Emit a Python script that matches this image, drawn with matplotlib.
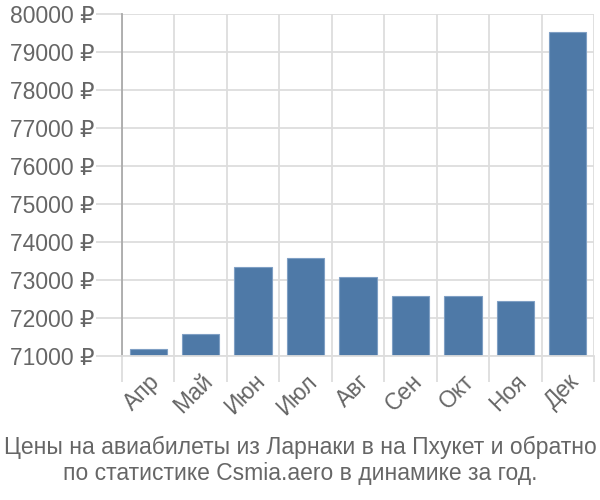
import numpy as np
import matplotlib.pyplot as plt

months = ['Апр', 'Май', 'Июн', 'Июл', 'Авг', 'Сен', 'Окт', 'Ноя', 'Дек']
prices = [71180, 71590, 73345, 73590, 73075, 72590, 72590, 72460, 79520]
yticks = [71000, 72000, 73000, 74000, 75000, 76000, 77000, 78000, 79000, 80000]
title = 'Цены на авиабилеты из Ларнаки в на Пхукет и обратно\nпо статистике Csmia.aero в динамике за год.'

plt.rcParams['font.family'] = ['Liberation Sans', 'DejaVu Sans']
txt = '#666666'
grid = '#dddddd'

fig = plt.figure(figsize=(6, 5), dpi=100)
ax = fig.add_axes([0.2033, 0.288, 0.7867, 0.684])

x = np.arange(len(months))
base = yticks[0]
ax.bar(x, [p - base for p in prices], bottom=base, width=0.71,
       color='#4e79a7', edgecolor='#7f9fc4', linewidth=0.8, zorder=3)

ax.set_xlim(-0.5, len(months) - 0.5)
ax.set_ylim(yticks[0], yticks[-1])
ax.set_yticks(yticks)
ax.set_yticklabels([f'{v} ₽' for v in yticks], fontsize=16.5, color=txt)
ax.set_xticks(x)
ax.set_xticklabels(months, rotation=45, ha='right', rotation_mode='anchor',
                   fontsize=16.5, color=txt)
ax.set_xticks(np.arange(-0.5, len(months)), minor=True)

ax.grid(True, which='minor', axis='x', color=grid, linewidth=1.3, zorder=0)
ax.grid(True, which='major', axis='y', color=grid, linewidth=1.3, zorder=0)
ax.tick_params(axis='x', which='major', length=0, pad=10)
ax.tick_params(axis='x', which='minor', length=19, width=1.3, color=grid)
ax.tick_params(axis='y', length=19, width=1.3, color=grid, pad=1)

for s in ['top', 'right']:
    ax.spines[s].set_visible(False)
ax.spines['bottom'].set_color(grid)
ax.spines['bottom'].set_linewidth(1.3)
ax.spines['bottom'].set_zorder(4)
ax.spines['left'].set_color('#aaaaaa')
ax.spines['left'].set_linewidth(1.3)

fig.text(0.5, 0.03, title, ha='center', va='bottom', fontsize=16.5,
         color=txt, linespacing=1.15)

fig.savefig('out.png', dpi=100)
